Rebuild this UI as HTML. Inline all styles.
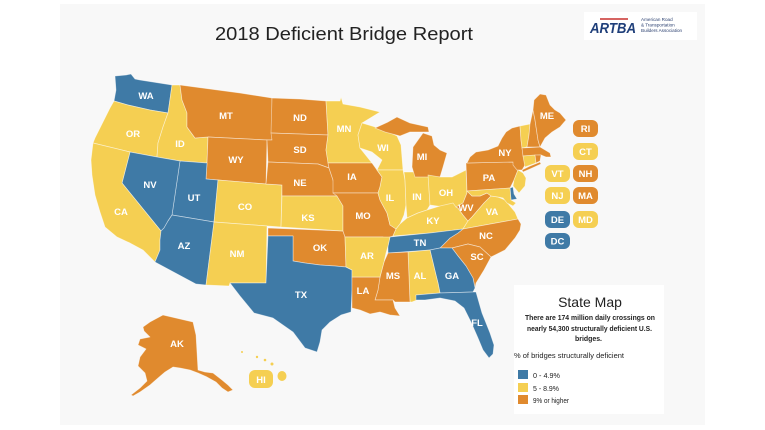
<!DOCTYPE html>
<html><head><meta charset="utf-8"><style>
html,body{margin:0;padding:0;background:#fff;}
svg{display:block;}
.b{fill:#3f7aa6}.y{fill:#f5cf52}.o{fill:#e08a2e}
.m polygon{stroke:#fff;stroke-opacity:.55;stroke-width:.7;stroke-linejoin:round}
.l{font-family:"Liberation Sans",Arial,sans-serif;font-weight:bold;font-size:9.5px;fill:#fff;text-anchor:middle}
.t{font-family:"Liberation Sans",Arial,sans-serif;fill:#222}
</style></head><body>
<svg width="765" height="430" viewBox="0 0 765 430" xmlns="http://www.w3.org/2000/svg">
<rect x="0" y="0" width="765" height="430" fill="#fff"/>
<rect x="60" y="4" width="645" height="421" fill="#f8f8f8"/>
<text class="t" x="215" y="40" font-size="18.5" textLength="258" lengthAdjust="spacingAndGlyphs">2018 Deficient Bridge Report</text>
<!-- logo -->
<rect x="584" y="12" width="113" height="28" fill="#fff"/>
<line x1="600" y1="19" x2="628" y2="19" stroke="#c8312f" stroke-width="1.6"/>
<text x="590" y="33" font-family="Liberation Sans,Arial,sans-serif" font-weight="bold" font-style="italic" font-size="15" fill="#1f3f7a" textLength="46" lengthAdjust="spacingAndGlyphs">ARTBA</text>
<g font-family="Liberation Sans,Arial,sans-serif" font-size="4.6" fill="#2a3f6f">
<text x="641" y="21">American Road</text>
<text x="641" y="26.5">&amp; Transportation</text>
<text x="641" y="32">Builders Association</text>
</g>
<g class="m">
<polygon class="b" points="115,76 126,75 131,74 135,79 140,80 172,85 168,113 150,110 128,105 114,101 116,90"/>
<polygon class="y" points="114,101 128,105 150,110 168,113 163,127 158,143 157,157 130,152 93,143 95,138 104,120 110,108"/>
<polygon class="y" points="172,85 180,85 182,100 187,113 187,127 195,138 208,137 207,163 180,161 157,157 158,143 163,127 168,113"/>
<polygon class="o" points="180,85 210,89 240,93 272,98 272,140 267,140 208,137 195,138 187,127 187,113 182,100"/>
<polygon class="o" points="208,137 267,140 266,184 218,180 206,179 207,163"/>
<polygon class="b" points="180,161 207,163 206,179 218,180 214,222 172,215"/>
<polygon class="b" points="130,152 157,157 180,161 172,215 168,221 164,228 161,231 122,183"/>
<polygon class="y" points="93,143 130,152 122,183 161,231 160,240 160,250 155,262 153,260 143,250 130,243 117,237 105,227 100,212 95,195 92,175 91,160"/>
<polygon class="b" points="172,215 214,222 206,285 196,284 155,262 160,250 160,240 161,231 164,228 168,221"/>
<polygon class="y" points="218,180 266,184 282,185 281,227 214,222"/>
<polygon class="y" points="214,222 267,226 266,283 230,283 229,286 206,285"/>
<polygon class="o" points="268,228 343,231 345,237 346,267 335,266 320,265 305,263 293,261 293,236 268,236"/>
<polygon class="b" points="268,236 293,236 293,261 305,263 320,265 335,266 346,267 352,270 352,290 351,312 341,315 330,322 322,330 320,342 317,352 305,348 293,332 273,318 254,313 240,296 230,283 266,283"/>
<polygon class="o" points="272,98 300,99 326,101 328,135 271,133"/>
<polygon class="o" points="271,133 328,135 326,150 329,168 318,164 268,162 267,140 272,140"/>
<polygon class="o" points="268,162 318,164 329,168 333,180 337,196 282,196 282,185 266,184"/>
<polygon class="y" points="282,196 337,196 343,206 343,231 281,227"/>
<polygon class="y" points="326,101 340,101 341,97 343,104 360,107 380,112 362,123 358,135 360,148 372,163 328,163 326,150 328,135"/>
<polygon class="o" points="328,163 372,163 377,170 382,177 380,187 378,193 333,193 333,180 329,168"/>
<polygon class="y" points="362,123 372,126 385,130 397,136 401,145 403,170 377,170 382,160 372,152 360,148 358,135"/>
<polygon class="o" points="333,193 378,193 380,200 387,213 390,225 396,229 393,236 390,237 386,240 383,237 345,237 343,231 343,206 337,196"/>
<polygon class="y" points="377,170 403,170 405,180 406,205 404,215 400,224 396,229 390,225 387,213 380,200 378,193 380,187 382,177"/>
<polygon class="y" points="404,172 428,172 430,205 427,210 418,213 407,218 406,205 405,180"/>
<polygon class="o" points="375,128 388,122 397,117 410,123 428,127 429,132 410,132 400,136 385,132"/>
<polygon class="o" points="423,133 432,136 434,145 440,150 447,153 443,167 440,177 415,177 412,167 413,147 418,140"/>
<polygon class="y" points="428,175 440,177 452,177 466,170 467,193 463,203 456,207 444,207 430,205"/>
<polygon class="y" points="393,236 396,229 400,224 407,218 418,213 427,210 440,206 453,203 456,207 458,208 463,215 468,221 463,229 430,233"/>
<polygon class="o" points="467,191 472,196 480,196 487,193 491,196 484,203 478,210 472,217 468,221 463,215 458,208 456,207 463,203 467,193"/>
<polygon class="y" points="463,229 468,221 472,217 478,210 484,203 491,196 498,197 505,200 510,206 515,212 518,219"/>
<polygon class="o" points="463,229 518,219 521,224 520,230 515,238 505,250 491,257 480,247 468,244 452,248 440,248 450,238 458,233"/>
<polygon class="b" points="390,237 430,233 463,229 458,233 450,238 440,248 430,250 388,253 388,246"/>
<polygon class="o" points="452,248 468,244 480,247 491,257 484,270 476,283 475,288 473,278 466,266 458,256"/>
<polygon class="b" points="430,250 440,248 452,248 458,256 466,266 473,278 475,288 473,292 440,293 438,283 436,275"/>
<polygon class="y" points="408,252 430,250 436,275 438,283 440,293 416,295 417,300 412,302 410,302"/>
<polygon class="o" points="388,253 408,252 410,302 402,302 395,302 393,300 375,300 378,290 380,277 384,262"/>
<polygon class="o" points="352,277 380,277 378,290 375,300 393,300 395,308 400,316 390,315 380,312 370,314 360,310 352,308"/>
<polygon class="y" points="345,237 390,237 388,246 386,253 384,262 380,277 352,277 352,270 346,267"/>
<polygon class="b" points="416,295 440,293 473,292 476,292 482,313 490,333 494,345 493,354 489,358 483,350 478,338 471,322 464,308 455,301 440,298 425,300 416,300"/>
<polygon class="o" points="466,163 513,162 518,170 514,180 510,188 467,191"/>
<polygon class="o" points="467,163 470,157 476,152 488,150 498,146 502,138 506,132 512,128 520,126 521,140 523,155 525,165 522,170 517,170 513,165 513,162"/>
<polygon class="o" points="522,170 530,166 540,162 541,164 530,169 523,172"/>
<polygon class="y" points="518,170 523,173 526,178 525,186 519,193 513,186 514,180"/>
<polygon class="b" points="510,188 513,187 514,194 517,199 511,200"/>
<polygon class="y" points="467,191 510,188 511,200 516,203 513,206 507,203 503,198 498,197 491,196 487,193 480,196 472,196"/>
<polygon class="y" points="520,126 530,124 529,135 527,147 522,148 521,140"/>
<polygon class="o" points="530,124 533,110 535,120 538,140 540,147 527,147 529,135"/>
<polygon class="o" points="533,110 534,100 540,94 546,95 550,105 555,110 560,113 566,120 560,127 552,132 545,138 540,147 538,140 535,120"/>
<polygon class="o" points="522,148 540,147 545,150 550,153 551,157 546,157 541,155 523,156"/>
<polygon class="y" points="523,156 535,155 536,163 525,167"/>
<polygon class="o" points="535,155 541,155 540,161 536,163"/>
<polygon class="o" points="163,315 193,322 196,335 198,370 205,372 213,373 222,380 228,385 233,390 228,392 222,388 216,382 207,377 198,373 190,370 180,368 173,367 165,372 158,378 150,385 140,392 133,396 131,395 140,388 147,381 145,373 138,366 140,357 146,349 138,345 140,339 150,337 144,331 143,327 150,322"/>
</g>
<!-- Hawaii -->
<g class="y">
<ellipse cx="282" cy="376" rx="4.5" ry="5"/>
<circle cx="242" cy="352" r="1"/><circle cx="257" cy="357" r="1.2"/><circle cx="265" cy="360" r="1.3"/><circle cx="272" cy="364" r="1.5"/>
</g>
<!-- labels -->
<g class="l">
<text x="146" y="99">WA</text><text x="226" y="119">MT</text><text x="300" y="121">ND</text>
<text x="547" y="119">ME</text><text x="133" y="137">OR</text><text x="180" y="147">ID</text>
<text x="344" y="132">MN</text><text x="383" y="151">WI</text><text x="300" y="153">SD</text>
<text x="236" y="163">WY</text><text x="422" y="160">MI</text><text x="505" y="156">NY</text>
<text x="352" y="180">IA</text><text x="300" y="186">NE</text><text x="489" y="181">PA</text>
<text x="150" y="188">NV</text><text x="194" y="201">UT</text><text x="245" y="210">CO</text>
<text x="390" y="201">IL</text><text x="417" y="200">IN</text><text x="446" y="196">OH</text>
<text x="466" y="211">WV</text><text x="492" y="215">VA</text><text x="121" y="215">CA</text>
<text x="308" y="221">KS</text><text x="363" y="219">MO</text><text x="433" y="224">KY</text>
<text x="184" y="249">AZ</text><text x="237" y="257">NM</text><text x="320" y="251">OK</text>
<text x="367" y="259">AR</text><text x="420" y="246">TN</text><text x="486" y="239">NC</text>
<text x="477" y="260">SC</text><text x="393" y="279">MS</text><text x="420" y="279">AL</text>
<text x="452" y="279">GA</text><text x="363" y="294">LA</text><text x="301" y="298">TX</text>
<text x="477" y="326">FL</text><text x="177" y="347">AK</text>
</g>
<!-- bubbles -->
<g>
<rect x="249" y="370" width="24" height="18" rx="6" class="y"/>
<rect x="573" y="120" width="25" height="17" rx="6" class="o"/>
<rect x="573" y="143" width="25" height="17" rx="6" class="y"/>
<rect x="545" y="165" width="25" height="17" rx="6" class="y"/>
<rect x="573" y="165" width="25" height="17" rx="6" class="o"/>
<rect x="545" y="187" width="25" height="17" rx="6" class="y"/>
<rect x="573" y="187" width="25" height="17" rx="6" class="o"/>
<rect x="545" y="211" width="25" height="17" rx="6" class="b"/>
<rect x="573" y="211" width="25" height="17" rx="6" class="y"/>
<rect x="545" y="233" width="25" height="16" rx="6" class="b"/>
</g>
<g class="l">
<text x="261" y="383">HI</text>
<text x="585.5" y="132">RI</text><text x="585.5" y="155">CT</text>
<text x="557.5" y="177">VT</text><text x="585.5" y="177">NH</text>
<text x="557.5" y="199">NJ</text><text x="585.5" y="199">MA</text>
<text x="557.5" y="223">DE</text><text x="585.5" y="223">MD</text>
<text x="557.5" y="244.5">DC</text>
</g>
<!-- legend -->
<rect x="514" y="285" width="150" height="129" fill="#fff"/>
<text class="t" x="590" y="307" font-size="14" text-anchor="middle">State Map</text>
<g class="t" font-weight="bold" font-size="7.5">
<text x="525" y="320" textLength="130" lengthAdjust="spacingAndGlyphs">There are 174 million daily crossings on</text>
<text x="527" y="331" textLength="125" lengthAdjust="spacingAndGlyphs">nearly 54,300 structurally deficient U.S.</text>
<text x="575" y="341" textLength="27" lengthAdjust="spacingAndGlyphs">bridges.</text>
</g>
<g class="t" font-size="7.5">
<text x="514" y="358" textLength="110" lengthAdjust="spacingAndGlyphs">% of bridges structurally deficient</text>
<text x="533" y="378" textLength="27" lengthAdjust="spacingAndGlyphs">0 - 4.9%</text>
<text x="533" y="391" textLength="26" lengthAdjust="spacingAndGlyphs">5 - 8.9%</text>
<text x="533" y="403" textLength="36" lengthAdjust="spacingAndGlyphs">9% or higher</text>
</g>
<rect x="518" y="370" width="10" height="9" class="b"/>
<rect x="518" y="383" width="10" height="9" class="y"/>
<rect x="518" y="395" width="10" height="9" class="o"/>
</svg>
</body></html>
